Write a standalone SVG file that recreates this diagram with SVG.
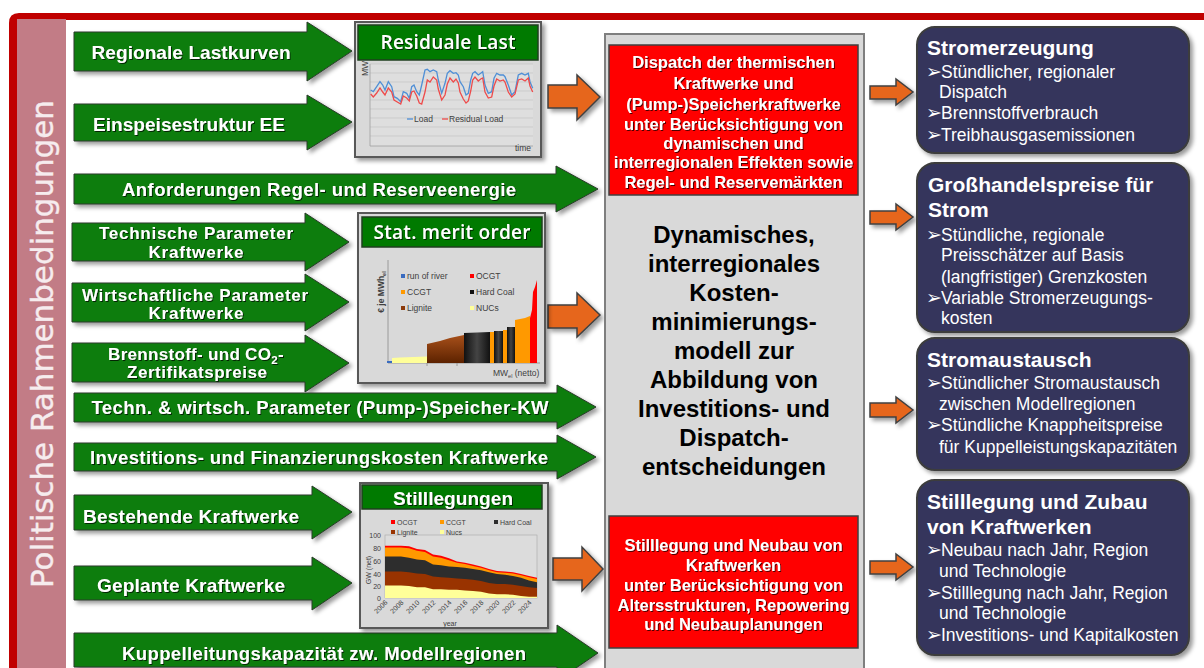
<svg xmlns="http://www.w3.org/2000/svg" width="1204" height="668" viewBox="0 0 1204 668">
<defs>
<filter id="sh" x="-10%" y="-10%" width="130%" height="140%"><feDropShadow dx="3" dy="3" stdDeviation="2" flood-color="#000" flood-opacity="0.4"/></filter>
<filter id="ts" x="-5%" y="-20%" width="110%" height="150%"><feDropShadow dx="1" dy="1" stdDeviation="0.6" flood-color="#000" flood-opacity="0.7"/></filter>
<linearGradient id="lig" x1="0" y1="0" x2="0" y2="1"><stop offset="0" stop-color="#a8501a"/><stop offset="1" stop-color="#5c2200"/></linearGradient>
<linearGradient id="hc" x1="0" y1="0" x2="1" y2="0"><stop offset="0" stop-color="#111"/><stop offset="0.5" stop-color="#444"/><stop offset="1" stop-color="#111"/></linearGradient>
<style>
.ga{fill:#0a7d0a;stroke:#2a3a2a;stroke-width:1}
.oa{fill:#e6661e;stroke:#404040;stroke-width:1.5}
.gl{font-family:"Liberation Sans",Arial,sans-serif;font-weight:bold;fill:#fff;text-anchor:middle}
.rt{font-family:"Liberation Sans",Arial,sans-serif;font-weight:bold;font-size:16.5px;fill:#fff;text-anchor:middle}
.ct{font-family:"Liberation Sans",Arial,sans-serif;font-weight:bold;font-size:24px;fill:#000;text-anchor:middle}
.bx{fill:#34365c;stroke:#3c3c3c;stroke-width:2}
.bt{font-family:"Liberation Sans",Arial,sans-serif;font-weight:bold;font-size:21px;fill:#fff}
.bl{font-family:"Liberation Sans","DejaVu Sans",Arial,sans-serif;font-size:17.5px;fill:#fff}
.ar{font-family:"DejaVu Sans",sans-serif;font-size:19px;fill:#fff}
.cb{fill:#d9d9d9;stroke:#595959;stroke-width:2}
.gh{fill:#007a00;stroke:#1f3f1f;stroke-width:1.5}
.sm{font-family:"Liberation Sans",Arial,sans-serif;font-size:8.5px;fill:#404040}
.tk{font-family:"Liberation Sans",Arial,sans-serif;font-size:7px;fill:#404040}
</style>
</defs>
<rect x="0" y="0" width="1204" height="668" fill="#fff"/>
<g id="frame">
<path d="M9,668 V23 Q9,13 19,13 H1204 V20 H66 V668 Z" fill="#c00000"/>
<rect x="17" y="19" width="49" height="660" fill="#c27c86"/>
<text transform="translate(53,344) rotate(-90)" font-family="DejaVu Sans,sans-serif" font-size="31" fill="#f6ecee" stroke="#f6ecee" stroke-width="0.4" text-anchor="middle" textLength="488" lengthAdjust="spacing">Politische Rahmenbedingungen</text>
</g>
<g id="connectors">
<g filter="url(#sh)">
<path class="oa" d="M548,85 H577 V75 L600,97 L577,120 V108 H548 Z"/>
<path class="oa" d="M548,305 H577 V293 L600,315 L577,337 V328 H548 Z"/>
<path class="oa" d="M553,558 H582 V547 L603,569 L582,591 V580 H553 Z"/>
<path class="oa" d="M870,86 H896 V79 L913,92 L896,105 V99 H870 Z"/>
<path class="oa" d="M870,211 H896 V204 L913,217 L896,230 V224 H870 Z"/>
<path class="oa" d="M870,403 H896 V397 L913,410 L896,423 V417 H870 Z"/>
<path class="oa" d="M870,561 H896 V554 L913,567 L896,580 V574 H870 Z"/>
</g>
</g>
<g id="in-lastkurven">
<path class="ga" filter="url(#sh)" d="M74,32 H307 V22 L352,51 L307,81 V71 H74 Z"/>
<text class="gl" filter="url(#ts)" x="191" y="58.5" font-size="19" textLength="199" lengthAdjust="spacing">Regionale Lastkurven</text>
</g>
<g id="in-einspeisung">
<path class="ga" filter="url(#sh)" d="M74,104 H307 V95 L352,122 L307,150 V141 H74 Z"/>
<text class="gl" filter="url(#ts)" x="189" y="130.5" font-size="19" textLength="192" lengthAdjust="spacing">Einspeisestruktur EE</text>
</g>
<g id="in-regelenergie">
<path class="ga" filter="url(#sh)" d="M74,174 H556 V166 L598,189 L556,212 V204 H74 Z"/>
<text class="gl" filter="url(#ts)" x="319" y="195.5" font-size="18.5" textLength="394" lengthAdjust="spacing">Anforderungen Regel- und Reserveenergie</text>
</g>
<g id="in-technisch">
<path class="ga" filter="url(#sh)" d="M72,223 H305 V213 L349,242 L305,271 V261 H72 Z"/>
<text class="gl" filter="url(#ts)" x="196" y="239" font-size="17" textLength="194" lengthAdjust="spacing">Technische Parameter</text>
<text class="gl" filter="url(#ts)" x="196" y="258" font-size="17" textLength="95" lengthAdjust="spacing">Kraftwerke</text>
</g>
<g id="in-wirtschaftlich">
<path class="ga" filter="url(#sh)" d="M72,283 H305 V274 L349,302 L305,331 V322 H72 Z"/>
<text class="gl" filter="url(#ts)" x="195" y="301" font-size="17" textLength="226" lengthAdjust="spacing">Wirtschaftliche Parameter</text>
<text class="gl" filter="url(#ts)" x="196" y="319" font-size="17" textLength="95" lengthAdjust="spacing">Kraftwerke</text>
</g>
<g id="in-brennstoff">
<path class="ga" filter="url(#sh)" d="M72,343 H305 V335 L349,363 L305,392 V382 H72 Z"/>
<text class="gl" filter="url(#ts)" x="196" y="360" font-size="17" letter-spacing="0.3">Brennstoff- und CO<tspan font-size="11.5" dy="4">2</tspan><tspan dy="-4">-</tspan></text>
<text class="gl" filter="url(#ts)" x="197" y="378" font-size="17" textLength="140" lengthAdjust="spacing">Zertifikatspreise</text>
</g>
<g id="in-speicher">
<path class="ga" filter="url(#sh)" d="M74,393 H557 V385 L596,407 L557,429 V422 H74 Z"/>
<text class="gl" filter="url(#ts)" x="320" y="413.5" font-size="18.5" textLength="457" lengthAdjust="spacing">Techn. &amp; wirtsch. Parameter (Pump-)Speicher-KW</text>
</g>
<g id="in-investition">
<path class="ga" filter="url(#sh)" d="M74,443 H557 V435 L596,457 L557,479 V471 H74 Z"/>
<text class="gl" filter="url(#ts)" x="319" y="463.5" font-size="18.5" textLength="458" lengthAdjust="spacing">Investitions- und Finanzierungskosten Kraftwerke</text>
</g>
<g id="in-bestehend">
<path class="ga" filter="url(#sh)" d="M74,495 H312 V486 L352,512 L312,539 V530 H74 Z"/>
<text class="gl" filter="url(#ts)" x="191" y="522.5" font-size="19" textLength="216" lengthAdjust="spacing">Bestehende Kraftwerke</text>
</g>
<g id="in-geplant">
<path class="ga" filter="url(#sh)" d="M74,566 H312 V557 L352,583 L312,610 V600 H74 Z"/>
<text class="gl" filter="url(#ts)" x="191" y="591.5" font-size="19" textLength="188" lengthAdjust="spacing">Geplante Kraftwerke</text>
</g>
<g id="in-kuppel">
<path class="ga" filter="url(#sh)" d="M74,633 H557 V625 L598,653 L557,681 V667 H74 Z"/>
<text class="gl" filter="url(#ts)" x="324" y="659.5" font-size="18.5" textLength="404" lengthAdjust="spacing">Kuppelleitungskapazität zw. Modellregionen</text>
</g>
<g id="chart-residual">
<rect class="cb" filter="url(#sh)" x="355" y="22" width="186" height="135"/>
<rect class="gh" x="358" y="25" width="180" height="35"/>
<text filter="url(#ts)" x="448" y="49" font-family="Open Sans,sans-serif" font-weight="600" font-size="19" fill="#fff" text-anchor="middle" textLength="135" lengthAdjust="spacing">Residuale Last</text>
<rect x="370" y="64" width="163" height="82" fill="#dedede"/>
<g stroke="#c4c4c4" stroke-width="0.7">
<line x1="370" y1="64" x2="533" y2="64"/><line x1="370" y1="73" x2="533" y2="73"/><line x1="370" y1="82" x2="533" y2="82"/><line x1="370" y1="91" x2="533" y2="91"/><line x1="370" y1="100" x2="533" y2="100"/><line x1="370" y1="109" x2="533" y2="109"/><line x1="370" y1="118" x2="533" y2="118"/><line x1="370" y1="127" x2="533" y2="127"/><line x1="370" y1="136" x2="533" y2="136"/>
</g>
<line x1="370" y1="64" x2="370" y2="146" stroke="#a0a0a0" stroke-width="0.8"/>
<line x1="370" y1="146" x2="533" y2="146" stroke="#a0a0a0" stroke-width="0.8"/>
<polyline fill="none" stroke="#4f8fd6" stroke-width="1.3" points="370.7,90 373.3,91.7 376.7,86.7 380,81.7 382.7,85 385,90 388.3,81.7 391.7,86.7 394,96.7 397.3,98.3 400.7,101.7 403.3,91.7 406.7,93.3 409.3,98.3 411.7,86.7 414,85 416.7,91.7 419.3,95 421.7,85 425,70 427.3,69.3 430,71.7 433.3,70 436.7,71.7 438.3,80 441.7,93.3 445,83.3 447.3,73.3 450,70.7 453.3,73.3 456,72.7 458.3,75 460,81.7 463.3,86.7 466,95 468.3,93.3 470.7,80 472.7,73.3 475,71.7 478.3,75 480.7,73.3 482.7,71.7 485,85 488.3,93.3 491.7,91.7 494,78.3 496.7,73.3 500,75 503.3,75 505,76.7 508.3,85 511.7,95 515,91.7 518.3,75 521.7,73.3 525,75 528.3,73.3 530,81.7 532.7,88.3"/>
<polyline fill="none" stroke="#ee4b4b" stroke-width="1.3" points="370.7,94 373.3,97 376.7,93 380,88 382.7,92 385,95 388.3,88 391.7,92 394,100 397.3,102 400.7,104 403.3,96 406.7,98 409.3,101 411.7,92 414,91 416.7,96 419.3,103 421.7,104 425,92 427.3,80 430,82 433.3,77 436.7,80 438.3,89 441.7,100 445,95 447.3,84 450,78 453.3,82 456,79 458.3,83 460,92 463.3,99 466,103 468.3,101 470.7,91 472.7,80 475,77 478.3,81 480.7,79 482.7,78 485,92 488.3,98 491.7,97 494,86 496.7,79 500,81 503.3,80 505,82 508.3,92 511.7,97 515,94 518.3,80 521.7,79 525,81 528.3,78 530,86 532.7,92"/>
<line x1="407" y1="119" x2="413" y2="119" stroke="#4f8fd6" stroke-width="1.3"/>
<text class="sm" x="414" y="122">Load</text>
<line x1="442" y1="119" x2="448" y2="119" stroke="#ee4b4b" stroke-width="1.3"/>
<text class="sm" x="449" y="122">Residual Load</text>
<text class="sm" x="515" y="151" font-size="8">time</text>
<text class="sm" transform="translate(368,76) rotate(-90)" font-size="7">MW</text>
</g>
<g id="chart-meritorder">
<rect class="cb" filter="url(#sh)" x="358" y="213" width="187" height="170"/>
<rect class="gh" x="362" y="217" width="180" height="30"/>
<text filter="url(#ts)" x="452" y="239" font-family="Open Sans,sans-serif" font-weight="600" font-size="19" fill="#fff" text-anchor="middle" textLength="157" lengthAdjust="spacing">Stat. merit order</text>
<line x1="388" y1="260" x2="388" y2="363" stroke="#8a8a8a" stroke-width="0.8"/>
<line x1="388" y1="363" x2="540" y2="363" stroke="#8a8a8a" stroke-width="0.8"/>
<line x1="427" y1="363" x2="427" y2="366" stroke="#8a8a8a" stroke-width="0.8"/>
<line x1="457" y1="363" x2="457" y2="366" stroke="#8a8a8a" stroke-width="0.8"/>
<rect x="387" y="361" width="5" height="2" fill="#3a6cc0"/>
<polygon fill="#ffff99" points="392,363 392,358 400,357.5 427,356.5 427,363"/>
<polygon fill="url(#lig)" points="427,363 427,344 440,341 450,338 464,335 464,363"/>
<polygon fill="url(#hc)" points="464,363 464,333 490,332 490,363"/>
<rect x="490" y="332" width="4" height="31" fill="#ff9900"/>
<rect x="494" y="331" width="9" height="32" fill="url(#hc)"/>
<rect x="503" y="330" width="4" height="33" fill="#ff9900"/>
<rect x="507" y="327" width="8" height="36" fill="url(#hc)"/>
<polygon fill="#ff9900" points="515,363 515,320 525,318 530,316 530,363"/>
<polygon fill="#ff0000" points="530,363 530,318 532,310 533,292 535,287 537,280 537,363"/>
<rect x="401" y="274" width="4" height="4" fill="#3a6cc0"/>
<text class="sm" x="407" y="279" fill="#333">run of river</text>
<rect x="470" y="274" width="4" height="4" fill="#ff0000"/>
<text class="sm" x="476" y="279" fill="#333">OCGT</text>
<rect x="401" y="290" width="4" height="4" fill="#ff9900"/>
<text class="sm" x="407" y="295" fill="#333">CCGT</text>
<rect x="470" y="290" width="4" height="4" fill="#111"/>
<text class="sm" x="476" y="295" fill="#333">Hard Coal</text>
<rect x="401" y="306" width="4" height="4" fill="#8b3a0a"/>
<text class="sm" x="407" y="311" fill="#333">Lignite</text>
<rect x="470" y="306" width="4" height="4" fill="#ffff99"/>
<text class="sm" x="476" y="311" fill="#333">NUCs</text>
<text class="sm" transform="translate(384,292) rotate(-90)" text-anchor="middle" font-weight="bold" fill="#222">€ je MWh<tspan font-size="5.5" dy="2">el</tspan></text>
<text class="sm" x="493" y="376" fill="#222">MW<tspan font-size="5.5" dy="2">el</tspan><tspan dy="-2"> (netto)</tspan></text>
</g>
<g id="chart-stilllegungen">
<rect class="cb" filter="url(#sh)" x="360" y="483" width="188" height="145"/>
<rect class="gh" x="362" y="485" width="180" height="24"/>
<text filter="url(#ts)" x="453" y="505" font-family="Liberation Sans,Arial,sans-serif" font-weight="bold" font-size="19" fill="#fff" text-anchor="middle" textLength="120" lengthAdjust="spacing">Stilllegungen</text>
<rect x="385" y="535" width="152" height="63" fill="#dcdcdc" stroke="#a8a8a8" stroke-width="0.6"/>
<polygon fill="#ff0000" points="385,545.7 393,545.7 401,545.7 409,546.3 417,548.9 425,550.1 433,554.5 441,555.8 449,558.3 457,561.5 465,562.7 473,564.6 481,566.5 489,569 497,570.9 505,571.5 513,572.2 521,574.1 529,576 537,577.8 537,598 385,598"/>
<polygon fill="#ff9900" points="385,547.6 393,547.6 401,547.6 409,548.2 417,550.7 425,552 433,556.4 441,557.7 449,560.2 457,562.7 465,564 473,565.9 481,567.8 489,570.3 497,572.2 505,572.8 513,573.4 521,575.3 529,577.2 537,579.1 537,598 385,598"/>
<polygon fill="#2d2d2d" points="385,556.4 393,556.4 401,556.4 409,557.7 417,559.6 425,560.2 433,564.6 441,565.2 449,566.5 457,567.1 465,567.8 473,569 481,570.3 489,572.2 497,574.1 505,574.7 513,576 521,577.8 529,580.4 537,582.2 537,598 385,598"/>
<polygon fill="#993300" points="385,571.5 393,571.5 401,571.5 409,572.2 417,573.4 425,574.1 433,576.6 441,577.2 449,577.8 457,578.5 465,579.1 473,579.7 481,581 489,582.9 497,584.1 505,584.1 513,584.8 521,586 529,587.3 537,587.9 537,598 385,598"/>
<polygon fill="#ffff99" points="385,585.4 393,585.4 401,585.4 409,586 417,587.3 425,587.3 433,589.2 441,589.2 449,589.8 457,589.8 465,590.4 473,591.1 481,591.7 489,593.6 497,594.2 505,594.2 513,594.8 521,596.1 529,596.7 537,596.7 537,598 385,598"/>
<rect x="391" y="520" width="4" height="4" fill="#ff0000"/><text class="tk" x="397" y="525" font-size="8">OCGT</text>
<rect x="440" y="520" width="4" height="4" fill="#ff9900"/><text class="tk" x="446" y="525" font-size="8">CCGT</text>
<rect x="494" y="520" width="4" height="4" fill="#2d2d2d"/><text class="tk" x="500" y="525" font-size="8">Hard Coal</text>
<rect x="391" y="530" width="4" height="4" fill="#993300"/><text class="tk" x="397" y="535" font-size="8">Lignite</text>
<rect x="440" y="530" width="4" height="4" fill="#ffff99"/><text class="tk" x="446" y="535" font-size="8">Nucs</text>
<g class="tk" text-anchor="end">
<text x="381" y="538">100</text><text x="381" y="551">80</text><text x="381" y="564">60</text><text x="381" y="577">40</text><text x="381" y="589">20</text><text x="381" y="601">0</text>
</g>
<text class="tk" transform="translate(371,570) rotate(-90)" text-anchor="middle" font-size="6.5">GW (net)</text>
<g class="tk" text-anchor="end" font-size="6.5">
<text transform="translate(388,603) rotate(-45)">2006</text>
<text transform="translate(404,603) rotate(-45)">2008</text>
<text transform="translate(420,603) rotate(-45)">2010</text>
<text transform="translate(436,603) rotate(-45)">2012</text>
<text transform="translate(452,603) rotate(-45)">2014</text>
<text transform="translate(468,603) rotate(-45)">2016</text>
<text transform="translate(484,603) rotate(-45)">2018</text>
<text transform="translate(500,603) rotate(-45)">2020</text>
<text transform="translate(516,603) rotate(-45)">2022</text>
<text transform="translate(532,603) rotate(-45)">2024</text>
</g>
<text class="tk" x="450" y="626" text-anchor="middle" font-size="8">year</text>
</g>
<g id="model">
<rect x="605" y="34" width="259" height="650" fill="#d9d9d9" stroke="#7f7f7f" stroke-width="2"/>
<text class="ct" x="734" y="243">Dynamisches,</text>
<text class="ct" x="734" y="272">interregionales</text>
<text class="ct" x="734" y="301">Kosten-</text>
<text class="ct" x="734" y="330">minimierungs-</text>
<text class="ct" x="734" y="359">modell zur</text>
<text class="ct" x="734" y="388">Abbildung von</text>
<text class="ct" x="734" y="417">Investitions- und</text>
<text class="ct" x="734" y="446">Dispatch-</text>
<text class="ct" x="734" y="475">entscheidungen</text>
</g>
<g id="dispatch">
<rect x="609" y="45" width="249" height="150" fill="#ff0000" stroke="#404040" stroke-width="1.5"/>
<text class="rt" filter="url(#ts)" x="733.5" y="68">Dispatch der thermischen</text>
<text class="rt" filter="url(#ts)" x="733.5" y="89">Kraftwerke und</text>
<text class="rt" filter="url(#ts)" x="733.5" y="110">(Pump-)Speicherkraftwerke</text>
<text class="rt" filter="url(#ts)" x="733.5" y="130">unter Berücksichtigung von</text>
<text class="rt" filter="url(#ts)" x="733.5" y="149">dynamischen und</text>
<text class="rt" filter="url(#ts)" x="733.5" y="168">interregionalen Effekten sowie</text>
<text class="rt" filter="url(#ts)" x="733.5" y="188">Regel- und Reservemärkten</text>
</g>
<g id="stilllegung-neubau">
<rect x="609" y="516" width="249" height="132" fill="#ff0000" stroke="#404040" stroke-width="1.5"/>
<text class="rt" filter="url(#ts)" x="733.5" y="551">Stilllegung und Neubau von</text>
<text class="rt" filter="url(#ts)" x="733.5" y="571">Kraftwerken</text>
<text class="rt" filter="url(#ts)" x="733.5" y="591">unter Berücksichtigung von</text>
<text class="rt" filter="url(#ts)" x="733.5" y="611">Altersstrukturen, Repowering</text>
<text class="rt" filter="url(#ts)" x="733.5" y="630">und Neubauplanungen</text>
</g>
<g id="out-stromerzeugung">
<rect class="bx" filter="url(#sh)" x="917" y="27" width="272" height="126" rx="18"/>
<text class="bt" x="927" y="55">Stromerzeugung</text>
<text class="ar" x="926" y="78">➢</text><text class="bl" x="941" y="78">Stündlicher, regionaler</text>
<text class="bl" x="939" y="98">Dispatch</text>
<text class="ar" x="926" y="119">➢</text><text class="bl" x="941" y="119">Brennstoffverbrauch</text>
<text class="ar" x="926" y="141">➢</text><text class="bl" x="941" y="141">Treibhausgasemissionen</text>
</g>
<g id="out-grosshandelspreise">
<rect class="bx" filter="url(#sh)" x="917" y="163" width="272" height="169" rx="18"/>
<text class="bt" x="928" y="192">Großhandelspreise für</text>
<text class="bt" x="928" y="217">Strom</text>
<text class="ar" x="926" y="241">➢</text><text class="bl" x="941" y="241">Stündliche, regionale</text>
<text class="bl" x="941" y="261">Preisschätzer auf Basis</text>
<text class="bl" x="941" y="283">(langfristiger) Grenzkosten</text>
<text class="ar" x="926" y="304">➢</text><text class="bl" x="941" y="304">Variable Stromerzeugungs-</text>
<text class="bl" x="941" y="324">kosten</text>
</g>
<g id="out-stromaustausch">
<rect class="bx" filter="url(#sh)" x="917" y="338" width="272" height="132" rx="18"/>
<text class="bt" x="927" y="367">Stromaustausch</text>
<text class="ar" x="926" y="389">➢</text><text class="bl" x="941" y="389">Stündlicher Stromaustausch</text>
<text class="bl" x="939" y="410">zwischen Modellregionen</text>
<text class="ar" x="926" y="431">➢</text><text class="bl" x="941" y="431">Stündliche Knappheitspreise</text>
<text class="bl" x="939" y="453">für Kuppelleistungskapazitäten</text>
</g>
<g id="out-zubau">
<rect class="bx" filter="url(#sh)" x="917" y="480" width="272" height="175" rx="18"/>
<text class="bt" x="927" y="509">Stilllegung und Zubau</text>
<text class="bt" x="927" y="534">von Kraftwerken</text>
<text class="ar" x="926" y="556">➢</text><text class="bl" x="941" y="556">Neubau nach Jahr, Region</text>
<text class="bl" x="939" y="577">und Technologie</text>
<text class="ar" x="926" y="599">➢</text><text class="bl" x="941" y="599">Stilllegung nach Jahr, Region</text>
<text class="bl" x="939" y="619">und Technologie</text>
<text class="ar" x="926" y="641">➢</text><text class="bl" x="941" y="641">Investitions- und Kapitalkosten</text>
</g>
</svg>
